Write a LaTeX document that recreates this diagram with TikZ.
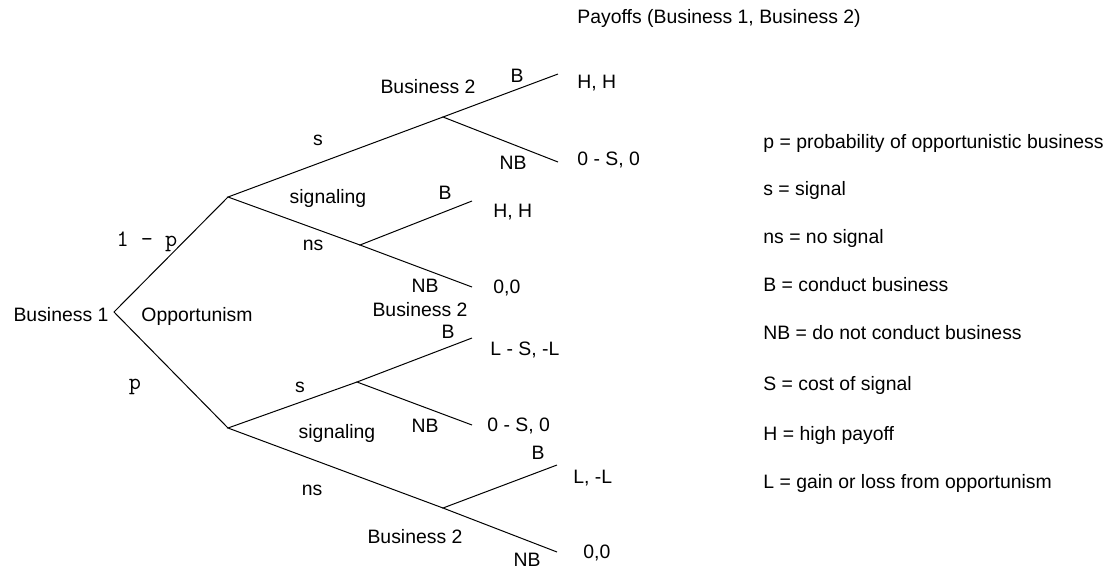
\documentclass[tikz,border=0pt]{standalone}
\usepackage{fontspec}
\setmainfont{Liberation Sans}
\tikzset{
  lbl/.style={inner sep=0pt, font=\fontsize{9.7}{11}\selectfont},
  pay/.style={lbl, anchor=west},
  prob/.style={inner sep=0pt, font=\ttfamily\fontsize{11.8}{13}\selectfont},
  branch/.style={line width=0.5pt}
}

\begin{document}
\begin{tikzpicture}[x=0.5pt,y=-0.5pt]
			%%%%% START %%%%%
			\useasboundingbox (0,0) rectangle (1110,570);
			
			% decision points
			\coordinate (b1) at (114,312);
			\coordinate (honest) at (228,197);
			\coordinate (oppor) at (228,428);
			\coordinate (hsig) at (443,117);
			\coordinate (hnosig) at (360,245);
			\coordinate (osig) at (357,382);
			\coordinate (onosig) at (443,508);
			
			% end points
			\coordinate (hsigB) at (558,74);
			\coordinate (hsigNB) at (558,162);
			\coordinate (hnosigB) at (472,201);
			\coordinate (hnosigNB) at (472,287);
			\coordinate (osigB) at (472,338);
			\coordinate (osigNB) at (472,425);
			\coordinate (onosigB) at (557,465);
			\coordinate (onosigNB) at (557,552);
			
			\draw[branch] (honest) -- (b1) -- (oppor);
			\draw[branch] (hsig) -- (honest) -- (hnosig);
			\draw[branch] (osig) -- (oppor) -- (onosig);
			\draw[branch] (hsigB) -- (hsig) -- (hsigNB);
			\draw[branch] (hnosigB) -- (hnosig) -- (hnosigNB);
			\draw[branch] (osigB) -- (osig) -- (osigNB);
			\draw[branch] (onosigB) -- (onosig) -- (onosigNB);
			
			% players and moves
			\node[lbl] (lb1) at (61,315) {Business 1};
			\node[lbl] (lopp) at (197,316) {Opportunism};
			\node[prob] (lhon) at (147,242) {1 - p};
			\node[prob] (lp) at (135,387) {p};
			
			\node[lbl] (ls1) at (318,140) {s};
			\node[lbl] (lsg1) at (328,198) {signaling};
			\node[lbl] (lns1) at (313,245) {ns};
			\node[lbl] (lbus1) at (428,87) {Business 2};
			\node[lbl] (lB1) at (517,76) {B};
			\node[lbl] (lNB1) at (513,163) {NB};
			\node[lbl] (lB2) at (445,193) {B};
			\node[lbl] (lNB2) at (425,286) {NB};
			
			\node[lbl] (lbus2) at (420,310) {Business 2};
			\node[lbl] (ls2) at (300,387) {s};
			\node[lbl] (lsg2) at (337,433) {signaling};
			\node[lbl] (lns2) at (312,490) {ns};
			\node[lbl] (lB3) at (448,332) {B};
			\node[lbl] (lNB3) at (425,426) {NB};
			\node[lbl] (lB4) at (538,453) {B};
			\node[lbl] (lbus3) at (415,537) {Business 2};
			\node[lbl] (lNB4) at (527,560) {NB};
			
			% payoffs
			\node[pay] (ptitle) at (577,18) {Payoffs (Business 1, Business 2)};
			\node[pay] (p1) at (577,83) {H, H};
			\node[pay] (p2) at (577,160) {0 - S, 0};
			\node[pay] (p3) at (493,212) {H, H};
			\node[pay] (p4) at (493,288) {0,0};
			\node[pay] (p5) at (490,350) {L - S, -L};
			\node[pay] (p6) at (487,426) {0 - S, 0};
			\node[pay] (p7) at (573,478) {L, -L};
			\node[pay] (p8) at (583,553) {0,0};
			
			% key
			\node[pay] (k1) at (763,143) {p = probability of opportunistic business};
			\node[pay] (k2) at (763,190) {s = signal};
			\node[pay] (k3) at (763,238) {ns = no signal};
			\node[pay] (k4) at (763,285) {B = conduct business};
			\node[pay] (k5) at (763,333) {NB = do not conduct business};
			\node[pay] (k6) at (763,385) {S = cost of signal};
			\node[pay] (k7) at (763,435) {H = high payoff};
			\node[pay] (k8) at (763,483) {L = gain or loss from opportunism};
			
			%%%%% END %%%%%
\end{tikzpicture}
\end{document}
